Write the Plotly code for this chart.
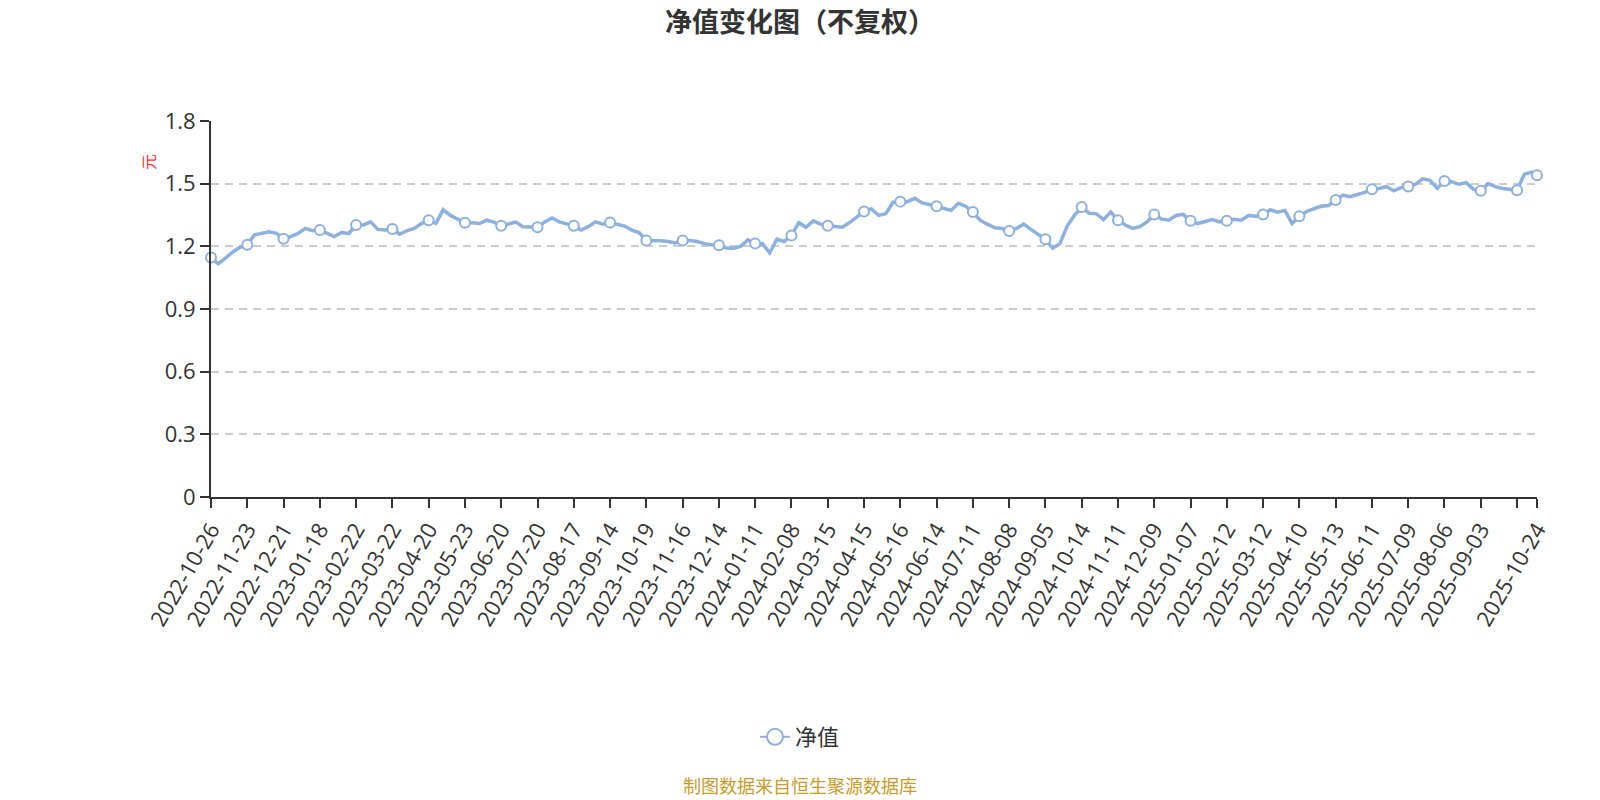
import plotly.graph_objects as go

# tick labels every 20 trading days, last point labelled on its own
tick_labels = [
    "2022-10-26", "2022-11-23", "2022-12-21",
    "2023-01-18", "2023-02-22", "2023-03-22", "2023-04-20", "2023-05-23", "2023-06-20",
    "2023-07-20", "2023-08-17", "2023-09-14", "2023-10-19", "2023-11-16", "2023-12-14",
    "2024-01-11", "2024-02-08", "2024-03-15", "2024-04-15", "2024-05-16", "2024-06-14",
    "2024-07-11", "2024-08-08", "2024-09-05", "2024-10-14", "2024-11-11", "2024-12-09",
    "2025-01-07", "2025-02-12", "2025-03-12", "2025-04-10", "2025-05-13", "2025-06-11",
    "2025-07-09", "2025-08-06", "2025-09-03",
]
last_label = "2025-10-24"
last_day = 731

y_ticks = [0, 0.3, 0.6, 0.9, 1.2, 1.5, 1.8]
y_tick_labels = ["0", "0.3", "0.6", "0.9", "1.2", "1.5", "1.8"]

# trading-day position of each sampled value (every 4th day, then the tail)
day_index = list(range(0, 720, 4)) + [720, 724, 728, 731]

# net value (5 samples per 20-day tick interval)
nav = [
    1.146, 1.117, 1.144, 1.173, 1.195,
    1.208, 1.255, 1.262, 1.270, 1.262,
    1.236, 1.247, 1.262, 1.286, 1.275,
    1.278, 1.262, 1.247, 1.266, 1.262,
    1.302, 1.302, 1.317, 1.281, 1.278,
    1.283, 1.258, 1.275, 1.286, 1.309,
    1.325, 1.309, 1.375, 1.348, 1.330,
    1.313, 1.313, 1.309, 1.325, 1.316,
    1.298, 1.309, 1.316, 1.294, 1.294,
    1.291, 1.317, 1.336, 1.317, 1.306,
    1.298, 1.278, 1.294, 1.317, 1.306,
    1.314, 1.305, 1.297, 1.278, 1.266,
    1.228, 1.228, 1.227, 1.223, 1.216,
    1.228, 1.228, 1.223, 1.213, 1.208,
    1.205, 1.192, 1.191, 1.200, 1.231,
    1.213, 1.213, 1.169, 1.234, 1.223,
    1.252, 1.313, 1.291, 1.322, 1.306,
    1.298, 1.294, 1.291, 1.314, 1.341,
    1.367, 1.380, 1.348, 1.356, 1.411,
    1.414, 1.414, 1.430, 1.408, 1.400,
    1.392, 1.384, 1.372, 1.406, 1.392,
    1.364, 1.325, 1.306, 1.289, 1.286,
    1.273, 1.286, 1.306, 1.281, 1.259,
    1.234, 1.191, 1.213, 1.297, 1.348,
    1.388, 1.359, 1.356, 1.328, 1.364,
    1.325, 1.302, 1.286, 1.294, 1.317,
    1.352, 1.330, 1.325, 1.348, 1.353,
    1.322, 1.309, 1.317, 1.328, 1.317,
    1.322, 1.330, 1.325, 1.348, 1.344,
    1.352, 1.375, 1.364, 1.372, 1.309,
    1.344, 1.367, 1.380, 1.392, 1.395,
    1.422, 1.445, 1.438, 1.447, 1.458,
    1.473, 1.477, 1.486, 1.466, 1.481,
    1.486, 1.497, 1.523, 1.516, 1.478,
    1.513, 1.509, 1.497, 1.505, 1.473,
    1.466, 1.500, 1.486, 1.477, 1.474,
    1.468, 1.545, 1.555, 1.540,
]

LINE = "#8DB0DE"
FONT = "Open Sans, Noto Sans CJK SC, sans-serif"

tick_vals = [20 * i for i in range(len(tick_labels) + 1)] + [last_day]
tick_text = tick_labels + ["", last_label]

# markers only on the tick days and the last day
mark_x = [d for d in day_index if d % 20 == 0 or d == last_day]
mark_y = [v for d, v in zip(day_index, nav) if d % 20 == 0 or d == last_day]

fig = go.Figure()

fig.add_trace(go.Scatter(
    x=day_index, y=nav, mode="lines",
    line=dict(color=LINE, width=3.5),
    showlegend=False, hoverinfo="skip",
))

fig.add_trace(go.Scatter(
    x=mark_x, y=mark_y, mode="markers",
    marker=dict(size=10, color="white", line=dict(color=LINE, width=2)),
    cliponaxis=False, showlegend=False, name="净值",
))

# legend entry only
fig.add_trace(go.Scatter(
    x=[None], y=[None], mode="lines+markers", name="净值",
    line=dict(color=LINE, width=2),
    marker=dict(size=16, color="white", line=dict(color=LINE, width=2)),
))

fig.update_layout(
    width=1600, height=800,
    margin=dict(l=211, r=63, t=121, b=303),
    paper_bgcolor="white", plot_bgcolor="white",
    font=dict(family=FONT, color="#333333", size=22),
    title=dict(
        text="<b>净值变化图（不复权）</b>",
        x=0.5, xref="container", xanchor="center",
        y=1 - 23 / 800, yref="container", yanchor="middle",
        font=dict(family="Noto Sans CJK SC", size=27, color="#333333"),
    ),
    legend=dict(
        orientation="h", x=0.5, xref="container", xanchor="center",
        y=1 - 737 / 800, yref="container", yanchor="middle",
        font=dict(family="Noto Sans CJK SC", size=22, color="#333333"),
    ),
    showlegend=True,
)

fig.update_xaxes(
    range=[0, last_day],
    tickmode="array", tickvals=tick_vals, ticktext=tick_text,
    tickangle=-60,
    showline=True, linecolor="#333333", linewidth=2,
    ticks="outside", ticklen=9, tickwidth=2, tickcolor="#333333",
    showgrid=False, zeroline=False,
    tickfont=dict(size=22, color="#333333"),
)

fig.update_yaxes(
    range=[0, 1.8],
    tickmode="array", tickvals=y_ticks, ticktext=y_tick_labels,
    showline=True, linecolor="#333333", linewidth=2,
    ticks="outside", ticklen=9, tickwidth=2, tickcolor="#333333",
    showgrid=True, gridcolor="#cccccc", gridwidth=1.5, griddash="8px,6px",
    zeroline=False,
    tickfont=dict(size=22, color="#333333"),
)

# plot area in pixels: x 211..1537, y 121..497
def px_x(px):
    return (px - 211) / 1326

def px_y(py):
    return (497 - py) / 376

# unit label, red and rotated
fig.add_annotation(
    text="元", x=px_x(148), y=px_y(162), xref="paper", yref="paper",
    xanchor="center", yanchor="middle",
    showarrow=False, textangle=-90,
    font=dict(family="Noto Sans CJK SC", size=16, color="#ff3333"),
)

fig.add_annotation(
    text="制图数据来自恒生聚源数据库",
    x=px_x(800), y=px_y(785), xref="paper", yref="paper",
    xanchor="center", yanchor="middle", showarrow=False,
    font=dict(family="Noto Sans CJK SC", size=18, color="#C99A2E"),
)

fig.write_html(
    "out.html",
    config={"displayModeBar": False},
    post_script="document.body.style.margin='0';",
)
